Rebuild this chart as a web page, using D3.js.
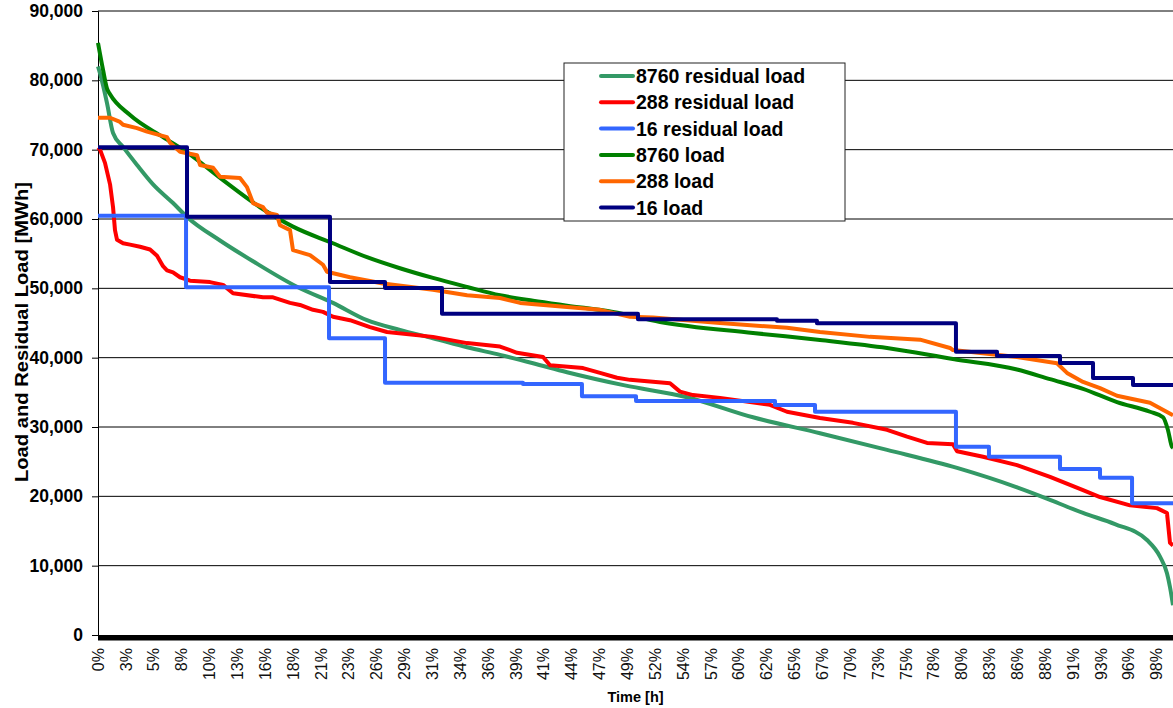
<!DOCTYPE html>
<html>
<head>
<meta charset="utf-8">
<script src="https://cdn.jsdelivr.net/npm/d3@7"></script>
<style>
  body { margin: 0; background: #fff; }
  text { font-family: "Liberation Sans", Arial, sans-serif; }
</style>
</head>
<body>
<div id="chart"></div>
<script>

var width = 1173,
    height = 708;

// y axis ticks (MWh)
var yTicks = [0, 10000, 20000, 30000, 40000, 50000, 60000, 70000, 80000, 90000];

// x tick labels, one every 227 h of the 8760 h year
var xTickLabels = ["0%","3%","5%","8%","10%","13%","16%","18%","21%","23%","26%","29%","31%","34%","36%","39%",
  "41%","44%","47%","49%","52%","54%","57%","60%","62%","65%","67%","70%","73%","75%","78%","80%","83%",
  "86%","88%","91%","93%","96%","98%"];
var tickHours = 227, yearHours = 8760;

// 8760 residual load (time in % of year, load in MWh)
var resid8760Time = [0, 0.19, 0.84, 1.40, 2.33, 3.63, 5.12, 6.98, 8.28, 11.35, 14.42, 18.6, 21.86, 25.02, 28.09,
  31.16, 34.33, 37.40, 40.47, 43.63, 49.0, 54.79, 60.93, 67.16, 73.40, 79.91, 85.49, 88.56, 91.63, 94.6,
  97.58, 98.79, 99.44, 99.72, 100];
var resid8760Load = [82000, 81000, 76700, 72400, 70400, 67800, 65000, 62300, 60300, 56900, 53900, 50150, 47900,
  45400, 44000, 42800, 41500, 40400, 39200, 37900, 36000, 34300, 31400, 29100, 26700, 24100, 21300, 19500,
  17600, 16000, 13700, 11300, 8900, 6900, 4300];

// 288 residual load
var resid288Time = [0, 0.19, 0.65, 1.12, 1.40, 1.58, 1.77, 2.33, 2.98, 3.91, 4.84, 5.49, 6.05, 6.42, 6.98, 7.63,
  8.56, 10.42, 11.63, 12.56, 15.35, 16.28, 17.86, 18.79, 20.00, 20.93, 21.86, 23.44, 25.30, 26.88, 31.16,
  34.33, 37.40, 38.98, 41.40, 42.05, 45.12, 46.70, 48.28, 49.49, 53.21, 54.14, 55.35, 57.86, 62.51, 64.09,
  67.16, 70.23, 73.40, 75.26, 77.12, 79.53, 79.91, 82.33, 85.49, 88.56, 91.63, 93.21, 96.00, 98.51, 99.44,
  99.72, 100];
var resid288Load = [70300, 70000, 68100, 65000, 61700, 58400, 57000, 56500, 56300, 56000, 55600, 54700, 53200,
  52600, 52300, 51600, 51100, 50900, 50500, 49300, 48700, 48700, 47900, 47600, 46900, 46600, 45900, 45400,
  44400, 43700, 43000, 42100, 41600, 40700, 40100, 38900, 38500, 37800, 37100, 36800, 36300, 35100, 34600,
  34200, 33200, 32200, 31300, 30600, 29600, 28600, 27700, 27500, 26500, 25700, 24500, 22800, 20900, 19900,
  18700, 18300, 17600, 13300, 12900];

// 16 residual load (step start in % of year, level in MWh)
var resid16Start = [0, 8.19, 21.49, 26.70, 39.53, 45.02, 50.05, 62.98, 66.70, 79.81, 82.88, 89.49, 93.21, 96.19];
var resid16Load = [60480, 50150, 42800, 36400, 36200, 34420, 33750, 33180, 32210, 27160, 25720, 23940, 22690, 19000];

// 8760 load
var load8760Time = [0, 0.47, 0.84, 1.12, 2.98, 6.05, 8.28, 11.63, 15.07, 18.14, 21.86, 25.02, 28.09, 31.16,
  34.33, 37.40, 40.47, 43.63, 47.91, 52.28, 60.93, 67.16, 73.40, 79.53, 85.49, 88.56, 91.63, 94.79, 97.86,
  99.07, 99.53, 99.91, 100];
var load8760Load = [85400, 81500, 78800, 78000, 75000, 71800, 69600, 65600, 61700, 58900, 56500, 54500, 52900,
  51500, 50200, 49000, 48200, 47500, 46600, 45150, 43560, 42550, 41400, 39800, 38300, 36900, 35500, 33600,
  32200, 31400, 29570, 27120, 27000];

// 288 load
var load288Time = [0, 1.12, 2.05, 2.33, 3.63, 4.56, 6.42, 6.70, 7.63, 9.21, 9.49, 10.70, 11.35, 13.21, 13.86,
  14.42, 15.35, 15.72, 16.65, 16.93, 17.86, 18.14, 19.72, 20.93, 21.30, 23.44, 26.51, 31.16, 34.33, 37.40,
  39.26, 43.63, 46.70, 49.49, 51.63, 57.86, 64.09, 67.16, 71.81, 76.47, 79.26, 79.53, 85.49, 89.21, 90.14,
  91.63, 93.21, 94.79, 97.86, 100];
var load288Load = [74600, 74600, 74000, 73600, 73100, 72600, 71800, 71000, 69700, 69200, 67800, 67400, 66100,
  65900, 64600, 62300, 61700, 60900, 60600, 59100, 58400, 55500, 54800, 53400, 52400, 51600, 50700, 49800,
  49000, 48600, 47900, 47300, 46900, 45900, 45800, 45000, 44300, 43700, 43000, 42600, 41400, 41100, 40100,
  39200, 37800, 36500, 35600, 34500, 33500, 31700];

// 16 load
var load16Start = [0, 8.28, 21.58, 26.70, 32.0, 50.23, 63.16, 66.88, 79.81, 83.63, 89.49, 92.56, 96.28];
var load16Load = [70340, 60340, 50900, 50050, 46330, 45540, 45340, 44960, 40870, 40240, 39230, 37070, 36060];

var legendNames = ["8760 residual load", "288 residual load", "16 residual load", "8760 load", "288 load", "16 load"];
var colors = ["#339966", "#FF0000", "#3366FF", "#008000", "#FF6600", "#000080"];

function zipPts(xs, ys){
  return xs.map(function(d, i){ return [d, ys[i]] })
}
function stepPts(starts, vals){
  var p = zipPts(starts, vals)
  p.push([100, vals[vals.length - 1]])
  return p
}

// kind: smooth hourly curve, 288 jagged curve, 16 block steps
var series = [
  {pts: zipPts(resid8760Time, resid8760Load), kind: "smooth"},
  {pts: zipPts(resid288Time, resid288Load), kind: "jagged"},
  {pts: stepPts(resid16Start, resid16Load), kind: "step"},
  {pts: zipPts(load8760Time, load8760Load), kind: "smooth"},
  {pts: zipPts(load288Time, load288Load), kind: "jagged"},
  {pts: stepPts(load16Start, load16Load), kind: "step"}
]

var margin = {left: 98, right: 0, top: 11, bottom: 73};

var x = d3.scaleLinear().domain([0, 100]).range([margin.left, width - margin.right]);
var y = d3.scaleLinear().domain([0, 90000]).range([height - margin.bottom, margin.top]);

var svg = d3.select("#chart").append("svg")
  .attr("width", width)
  .attr("height", height);

//gridlines
svg.append("g")
  .selectAll("line")
  .data(yTicks.filter(function(d){ return d > 0 }))
  .enter().append("line")
  .attr("x1", x(0))
  .attr("x2", x(100))
  .attr("y1", function(d){ return y(d) })
  .attr("y2", function(d){ return y(d) })
  .attr("stroke", "#000")
  .attr("stroke-width", 1);

//y axis
var yAxis = svg.append("g")
  .attr("transform", "translate(" + x(0) + ",0)")
  .call(d3.axisLeft(y).tickValues(yTicks).tickSize(6).tickPadding(9).tickFormat(d3.format(",")));
yAxis.select(".domain").attr("stroke", "#000");
yAxis.selectAll(".tick line").attr("stroke", "#000");
yAxis.selectAll("text")
  .style("font-family", "'Liberation Sans', Arial, sans-serif")
  .style("font-size", "17.5px")
  .style("font-weight", "bold")
  .attr("fill", "#000");

//x labels
svg.append("g")
  .selectAll("text")
  .data(xTickLabels)
  .enter().append("text")
  .attr("transform", function(d, i){
    return "translate(" + x(i * tickHours / yearHours * 100) + "," + 648 + ") rotate(-90)"
  })
  .attr("dy", "0.36em")
  .attr("text-anchor", "end")
  .style("font-size", "16px")
  .attr("fill", "#111")
  .text(function(d){ return d });

//lines
var lineGen = {
  smooth: d3.line().curve(d3.curveMonotoneX),
  jagged: d3.line(),
  step: d3.line().curve(d3.curveStepAfter)
}
for (var k in lineGen){
  lineGen[k].x(function(d){ return x(d[0]) }).y(function(d){ return y(d[1]) })
}

svg.append("g")
  .selectAll("path")
  .data(series)
  .enter().append("path")
  .attr("d", function(d){ return lineGen[d.kind](d.pts) })
  .attr("fill", "none")
  .attr("stroke", function(d, i){ return colors[i] })
  .attr("stroke-width", 4)
  .attr("stroke-linejoin", "round");

//thick category axis
svg.append("line")
  .attr("x1", x(0))
  .attr("x2", x(100))
  .attr("y1", y(0) + 2.8)
  .attr("y2", y(0) + 2.8)
  .attr("stroke", "#000")
  .attr("stroke-width", 5.5);

//axis titles
svg.append("text")
  .attr("x", (x(0) + x(100)) / 2)
  .attr("y", 702)
  .attr("text-anchor", "middle")
  .style("font-size", "14.5px")
  .style("font-weight", "bold")
  .text("Time [h]");

svg.append("text")
  .attr("transform", "translate(28,332) rotate(-90)")
  .attr("text-anchor", "middle")
  .attr("textLength", 300)
  .attr("lengthAdjust", "spacingAndGlyphs")
  .style("font-size", "18px")
  .style("font-weight", "bold")
  .text("Load and Residual Load [MWh]");

//legend
var legend = svg.append("g").attr("transform", "translate(564,63)");
legend.append("rect")
  .attr("width", 281)
  .attr("height", 158)
  .attr("fill", "#fff")
  .attr("stroke", "#222");

var item = legend.selectAll("g.item")
  .data(legendNames)
  .enter().append("g")
  .attr("class", "item")
  .attr("transform", function(d, i){ return "translate(0," + (13 + i * 26.3) + ")" });

item.append("line")
  .attr("x1", 37)
  .attr("x2", 69)
  .attr("stroke", function(d, i){ return colors[i] })
  .attr("stroke-width", 4)
  .attr("stroke-linecap", "round");

item.append("text")
  .attr("x", 72)
  .attr("dy", "0.36em")
  .style("font-size", "19.5px")
  .style("font-weight", "bold")
  .text(function(d){ return d });

</script>
</body>
</html>
